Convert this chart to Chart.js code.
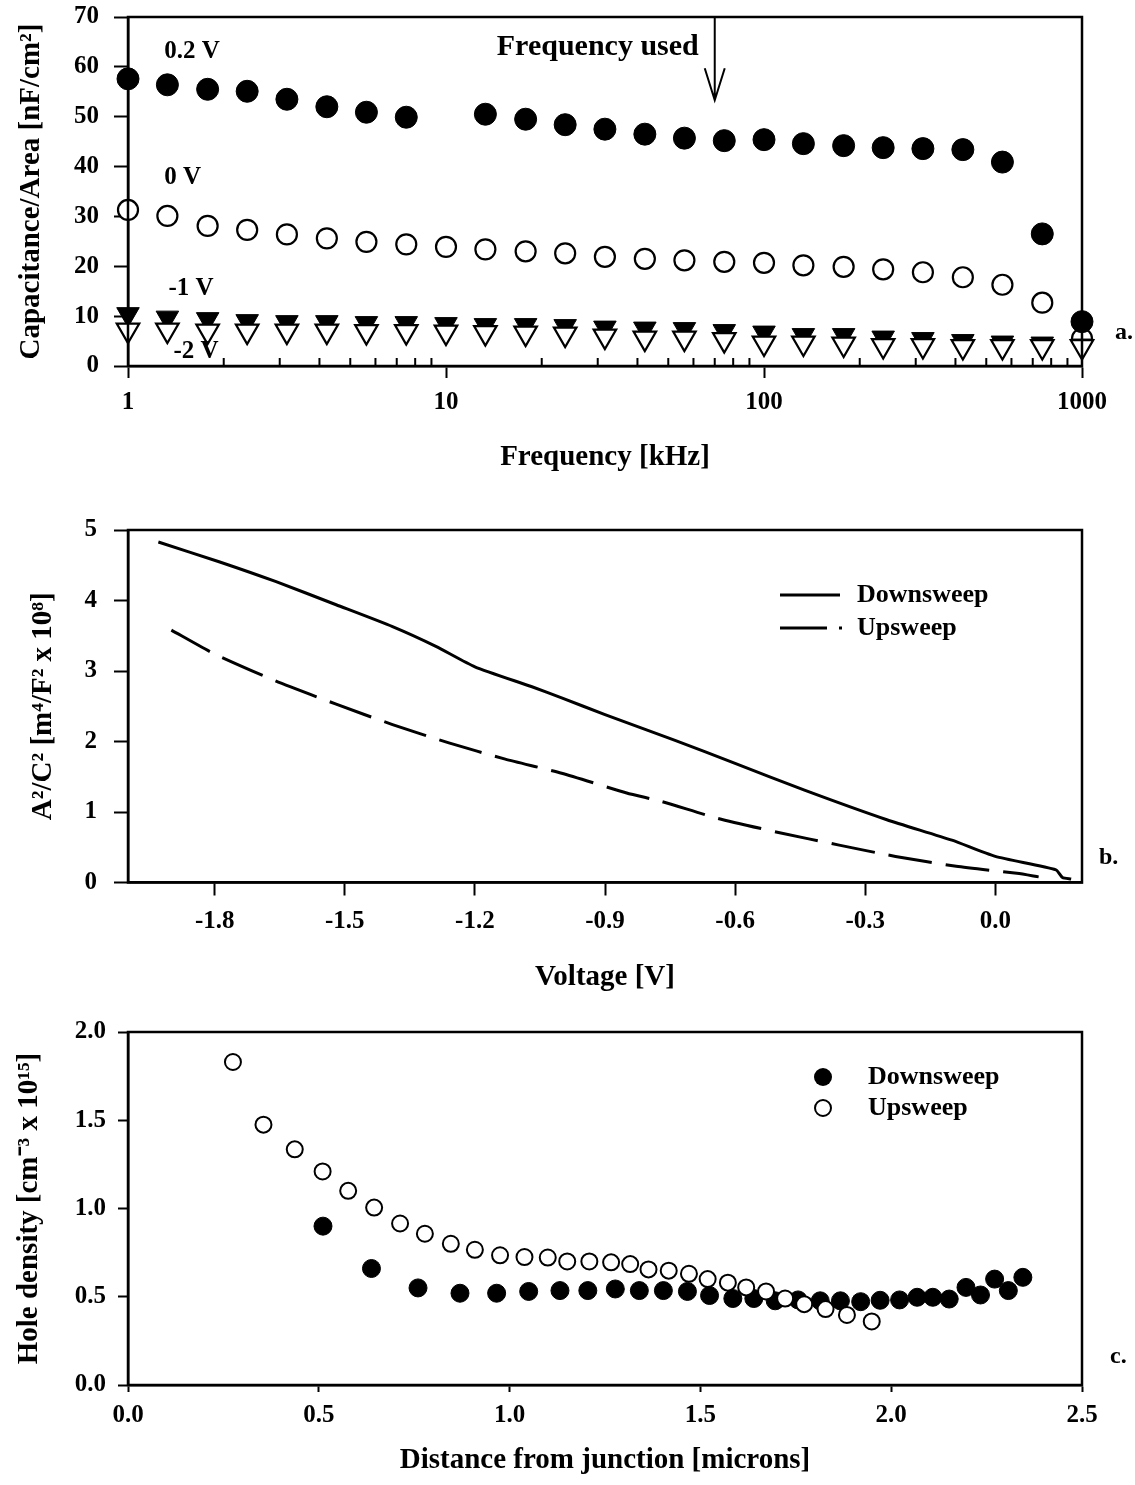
<!DOCTYPE html>
<html>
<head>
<meta charset="utf-8">
<script src="https://cdn.jsdelivr.net/npm/chart.js@4.4.1/dist/chart.umd.min.js"></script>
<style>
  html, body { margin: 0; padding: 0; background: #fff; }
  #page { position: relative; width: 1135px; height: 1485px; }
  canvas { position: absolute; left: 0; }
</style>
</head>
<body>
<div id="page">
  <canvas id="chartA" width="1135" height="480" style="top:0px"></canvas>
  <canvas id="chartB" width="1135" height="520" style="top:480px"></canvas>
  <canvas id="chartC" width="1135" height="485" style="top:1000px"></canvas>
</div>
<script>
// ---- panel a : capacitance vs frequency ----
const freqKHz = [1, 1.33, 1.78, 2.37, 3.16, 4.22, 5.62, 7.5, 10, 13.3, 17.8, 23.7, 31.6, 42.2, 56.2, 75, 100, 133, 178, 237, 316, 422, 562, 750, 1000];
const cap02V = [57.6, 56.4, 55.5, 55.1, 53.5, 52.0, 50.9, 49.9, null, 50.5, 49.5, 48.4, 47.5, 46.5, 45.7, 45.2, 45.4, 44.6, 44.2, 43.8, 43.6, 43.4, 40.9, 26.5, 8.9];
const cap0V = [31.3, 30.1, 28.1, 27.3, 26.4, 25.6, 24.9, 24.4, 23.9, 23.4, 23.0, 22.6, 21.9, 21.5, 21.2, 20.9, 20.7, 20.2, 19.9, 19.4, 18.8, 17.8, 16.3, 12.7, 5.5];
const capM1V = [10.4, 9.7, 9.4, 9.0, 8.8, 8.8, 8.6, 8.6, 8.4, 8.2, 8.2, 8.0, 7.7, 7.5, 7.4, 7.0, 6.7, 6.2, 6.2, 5.7, 5.4, 5.0, 4.7, 4.5, 4.1];
const capM2V = [7.2, 7.2, 7.0, 7.0, 7.0, 7.0, 6.9, 6.9, 6.8, 6.7, 6.6, 6.4, 6.0, 5.6, 5.6, 5.3, 4.6, 4.6, 4.4, 4.1, 4.1, 3.9, 3.9, 3.9, 3.9];
const freqMajorTicks = [1, 10, 100, 1000];
const freqMinorTicks = [2, 3, 4, 5, 6, 7, 8, 9, 20, 30, 40, 50, 60, 70, 80, 90, 200, 300, 400, 500, 600, 700, 800, 900];
const freqUsed = 70;

// ---- panel b : A^2/C^2 vs voltage ----
const voltDown = [-1.93, -1.79, -1.66, -1.52, -1.39, -1.29, -1.20, -1.07, -1.00, -0.90, -0.74, -0.60, -0.44, -0.25, -0.10, 0.00, 0.14, 0.155, 0.175];
const a2c2Down = [4.83, 4.55, 4.27, 3.94, 3.63, 3.35, 3.06, 2.78, 2.62, 2.38, 2.02, 1.69, 1.31, 0.89, 0.60, 0.37, 0.18, 0.07, 0.05];
const voltUp = [-1.90, -1.80, -1.66, -1.52, -1.39, -1.26, -1.13, -1.00, -0.85, -0.77, -0.64, -0.50, -0.36, -0.23, -0.09, 0.05, 0.10];
const a2c2Up = [3.58, 3.24, 2.86, 2.53, 2.24, 1.98, 1.75, 1.55, 1.27, 1.15, 0.91, 0.71, 0.53, 0.37, 0.23, 0.13, 0.08];
const voltTicks = [-1.8, -1.5, -1.2, -0.9, -0.6, -0.3, 0.0];

// ---- panel c : hole density vs distance ----
const distDown = [0.511, 0.638, 0.76, 0.87, 0.966, 1.05, 1.132, 1.205, 1.277, 1.34, 1.403, 1.466, 1.524, 1.585, 1.64, 1.696, 1.756, 1.814, 1.867, 1.92, 1.971, 2.022, 2.068, 2.109, 2.152, 2.196, 2.234, 2.271, 2.307, 2.345];
const densDown = [0.90, 0.66, 0.55, 0.52, 0.52, 0.53, 0.535, 0.535, 0.544, 0.535, 0.535, 0.53, 0.507, 0.49, 0.49, 0.477, 0.482, 0.477, 0.477, 0.472, 0.48, 0.482, 0.497, 0.497, 0.487, 0.553, 0.51, 0.60, 0.535, 0.61];
const distUp = [0.275, 0.355, 0.437, 0.51, 0.577, 0.645, 0.713, 0.778, 0.846, 0.909, 0.975, 1.039, 1.10, 1.151, 1.209, 1.266, 1.316, 1.364, 1.417, 1.47, 1.519, 1.572, 1.62, 1.672, 1.722, 1.772, 1.828, 1.884, 1.949];
const densUp = [1.83, 1.475, 1.335, 1.21, 1.10, 1.005, 0.915, 0.857, 0.80, 0.766, 0.735, 0.725, 0.722, 0.70, 0.70, 0.695, 0.685, 0.655, 0.648, 0.63, 0.60, 0.58, 0.553, 0.53, 0.49, 0.458, 0.43, 0.397, 0.36];

// ====================
// Common settings
// ====================
const SERIF = "'Liberation Serif', 'Times New Roman', serif";
Chart.defaults.font.family = SERIF;
Chart.defaults.color = '#000';
Chart.defaults.animation = false;
Chart.defaults.plugins.legend.display = false;
Chart.defaults.plugins.tooltip.enabled = false;

const tickFont = { family: SERIF, size: 25, weight: 'bold' };
const titleFont = { family: SERIF, size: 29, weight: 'bold' };

function pairs(xs, ys) {
  return xs.map((x, i) => ({ x: x, y: ys[i] }));
}

// axe avec largeur / hauteur fixe (et sans marge ajoutée par les étiquettes)
function fixedWidth(w) {
  return scale => {
    scale.width = w;
    scale.paddingTop = 0;
    scale.paddingBottom = 0;
  };
}
function fixedHeight(h) { return scale => { scale.height = h; }; }

function axisGrid(len) {
  return { drawOnChartArea: false, drawTicks: true, tickLength: len, tickWidth: 2, tickColor: '#000', color: '#000' };
}
const axisBorder = { display: true, color: '#000', width: 2.5 };

// cadre complet autour de la zone de tracé
const framePlugin = {
  id: 'frame',
  afterDraw(chart) {
    const { ctx, chartArea: a } = chart;
    ctx.save();
    ctx.strokeStyle = '#000';
    ctx.lineWidth = 2.5;
    ctx.strokeRect(a.left, a.top, a.right - a.left, a.bottom - a.top);
    ctx.restore();
  }
};

function panelLetter(ctx, text, x, y) {
  ctx.font = 'bold 24px ' + SERIF;
  ctx.textAlign = 'left';
  ctx.textBaseline = 'middle';
  ctx.fillText(text, x, y);
}

// ====================
// Panel a
// ====================
const seriesLabelsA = [
  { text: '0.2 V', f: 1.3, v: 63 },
  { text: '0 V', f: 1.3, v: 37.7 },
  { text: '-1 V', f: 1.34, v: 15.6 },
  { text: '-2 V', f: 1.39, v: 2.8 }
];

const annotateA = {
  id: 'annotateA',
  afterDatasetsDraw(chart) {
    const { ctx, scales: { x, y }, chartArea: a } = chart;
    ctx.save();
    ctx.fillStyle = '#000';
    ctx.strokeStyle = '#000';
    ctx.font = 'bold 25px ' + SERIF;
    ctx.textAlign = 'left';
    ctx.textBaseline = 'middle';
    seriesLabelsA.forEach(l => ctx.fillText(l.text, x.getPixelForValue(l.f), y.getPixelForValue(l.v)));

    // flèche "Frequency used"
    const ax = x.getPixelForValue(freqUsed);
    const tip = y.getPixelForValue(53.3);
    ctx.lineWidth = 2;
    ctx.beginPath();
    ctx.moveTo(ax, a.top);
    ctx.lineTo(ax, tip);
    ctx.moveTo(ax - 10, tip - 32);
    ctx.lineTo(ax, tip);
    ctx.lineTo(ax + 10, tip - 32);
    ctx.stroke();
    ctx.font = 'bold 30px ' + SERIF;
    ctx.textAlign = 'right';
    ctx.fillText('Frequency used', ax - 16, y.getPixelForValue(64));

    // petites graduations internes (log)
    ctx.lineWidth = 2;
    ctx.beginPath();
    freqMinorTicks.forEach(f => {
      const px = x.getPixelForValue(f);
      ctx.moveTo(px, a.bottom);
      ctx.lineTo(px, a.bottom - 8);
    });
    ctx.stroke();

    panelLetter(ctx, 'a.', a.right + 33, a.bottom - 33);
    ctx.restore();
  }
};

new Chart(document.getElementById('chartA'), {
  type: 'scatter',
  data: {
    datasets: [
      { label: '0.2 V', data: pairs(freqKHz, cap02V), order: 2, pointStyle: 'circle', pointRadius: 11,
        backgroundColor: '#000', borderColor: '#000', borderWidth: 1, clip: false },
      { label: '0 V', data: pairs(freqKHz, cap0V), order: 3, pointStyle: 'circle', pointRadius: 10,
        backgroundColor: '#fff', borderColor: '#000', borderWidth: 2.2, clip: false },
      { label: '-1 V', data: pairs(freqKHz, capM1V), order: 1, pointStyle: 'triangle', pointRotation: 180, pointRadius: 13,
        backgroundColor: '#000', borderColor: '#000', borderWidth: 1, clip: false },
      { label: '-2 V', data: pairs(freqKHz, capM2V), order: 0, pointStyle: 'triangle', pointRotation: 180, pointRadius: 13,
        backgroundColor: '#fff', borderColor: '#000', borderWidth: 2.2, clip: false }
    ]
  },
  options: {
    responsive: false,
    layout: { padding: { top: 17, right: 53, left: 0, bottom: 0 } },
    scales: {
      x: {
        type: 'logarithmic', min: 1, max: 1000,
        afterFit: fixedHeight(114),
        afterBuildTicks: scale => {
          scale.ticks = freqMajorTicks.map(v => ({ value: v }));
        },
        ticks: { font: tickFont, padding: 10, autoSkip: false, maxRotation: 0, callback: v => String(v) },
        grid: axisGrid(12),
        border: axisBorder,
        title: { display: true, text: 'Frequency [kHz]', font: titleFont, padding: { top: 0, bottom: 5 } }
      },
      y: {
        min: 0, max: 70,
        afterFit: fixedWidth(128),
        ticks: { font: tickFont, stepSize: 10, padding: 15 },
        grid: axisGrid(14),
        border: axisBorder,
        title: { display: true, text: 'Capacitance/Area [nF/cm²]', font: titleFont, padding: { top: 14, bottom: 0 } }
      }
    }
  },
  plugins: [framePlugin, annotateA]
});

// ====================
// Panel b
// ====================
const upDash = [44, 14];

const annotateB = {
  id: 'annotateB',
  afterDraw(chart) {
    const { ctx, chartArea: a } = chart;
    ctx.save();
    ctx.strokeStyle = '#000';
    ctx.fillStyle = '#000';
    ctx.lineWidth = 3;
    const lx = a.left + 652;
    const y1 = a.top + 65;
    const y2 = a.top + 98;
    ctx.beginPath();
    ctx.moveTo(lx, y1);
    ctx.lineTo(lx + 60, y1);
    ctx.moveTo(lx, y2);
    ctx.lineTo(lx + 47, y2);
    ctx.moveTo(lx + 59, y2);
    ctx.lineTo(lx + 62, y2);
    ctx.stroke();
    ctx.font = 'bold 26px ' + SERIF;
    ctx.textAlign = 'left';
    ctx.textBaseline = 'middle';
    ctx.fillText('Downsweep', lx + 77, y1);
    ctx.fillText('Upsweep', lx + 77, y2);
    panelLetter(ctx, 'b.', a.right + 17, a.bottom - 25);
    ctx.restore();
  }
};

new Chart(document.getElementById('chartB'), {
  type: 'scatter',
  data: {
    datasets: [
      { label: 'Downsweep', data: pairs(voltDown, a2c2Down), showLine: true, pointRadius: 0,
        borderColor: '#000', borderWidth: 3, tension: 0.2, clip: false },
      { label: 'Upsweep', data: pairs(voltUp, a2c2Up), showLine: true, pointRadius: 0,
        borderColor: '#000', borderWidth: 3, borderDash: upDash, tension: 0.2, clip: false }
    ]
  },
  options: {
    responsive: false,
    layout: { padding: { top: 50, right: 53, left: 0, bottom: 0 } },
    scales: {
      x: {
        min: -2.0, max: 0.2,
        afterFit: fixedHeight(117.5),
        afterBuildTicks: scale => {
          scale.ticks = voltTicks.map(v => ({ value: v }));
        },
        ticks: { font: tickFont, padding: 11, autoSkip: false, maxRotation: 0, callback: v => v.toFixed(1) },
        grid: axisGrid(13),
        border: axisBorder,
        title: { display: true, text: 'Voltage [V]', font: titleFont, padding: { top: 0, bottom: 5 } }
      },
      y: {
        min: 0, max: 5,
        afterFit: fixedWidth(128),
        ticks: { font: tickFont, stepSize: 1, padding: 17 },
        grid: axisGrid(14),
        border: axisBorder,
        title: { display: true, text: 'A²/C² [m⁴/F² x 10⁸]', font: titleFont, padding: { top: 26, bottom: 0 } }
      }
    }
  },
  plugins: [framePlugin, annotateB]
});

// ====================
// Panel c
// ====================
const annotateC = {
  id: 'annotateC',
  afterDraw(chart) {
    const { ctx, chartArea: a } = chart;
    ctx.save();
    const cx = a.left + 695;
    const y1 = a.top + 45;
    const y2 = a.top + 76;
    ctx.fillStyle = '#000';
    ctx.beginPath();
    ctx.arc(cx, y1, 9, 0, Math.PI * 2);
    ctx.fill();
    ctx.strokeStyle = '#000';
    ctx.lineWidth = 2;
    ctx.beginPath();
    ctx.arc(cx, y2, 8, 0, Math.PI * 2);
    ctx.stroke();
    ctx.font = 'bold 26px ' + SERIF;
    ctx.textAlign = 'left';
    ctx.textBaseline = 'middle';
    ctx.fillText('Downsweep', cx + 45, y1);
    ctx.fillText('Upsweep', cx + 45, y2);
    panelLetter(ctx, 'c.', a.right + 28, a.bottom - 28);
    ctx.restore();
  }
};

new Chart(document.getElementById('chartC'), {
  type: 'scatter',
  data: {
    datasets: [
      { label: 'Upsweep', data: pairs(distUp, densUp), pointRadius: 8,
        backgroundColor: '#fff', borderColor: '#000', borderWidth: 2, clip: false },
      { label: 'Downsweep', data: pairs(distDown, densDown), pointRadius: 9,
        backgroundColor: '#000', borderColor: '#000', borderWidth: 1, clip: false }
    ]
  },
  options: {
    responsive: false,
    layout: { padding: { top: 32, right: 53, left: 0, bottom: 0 } },
    scales: {
      x: {
        min: 0, max: 2.5,
        afterFit: fixedHeight(100),
        ticks: { font: tickFont, stepSize: 0.5, padding: 9, autoSkip: false, maxRotation: 0, callback: v => v.toFixed(1) },
        grid: axisGrid(7),
        border: axisBorder,
        title: { display: true, text: 'Distance from junction [microns]', font: titleFont, padding: { top: 0, bottom: 7 } }
      },
      y: {
        min: 0, max: 2,
        afterFit: fixedWidth(128),
        ticks: { font: tickFont, stepSize: 0.5, padding: 12, callback: v => v.toFixed(1) },
        grid: axisGrid(10),
        border: axisBorder,
        title: { display: true, text: 'Hole density [cm⁻³ x 10¹⁵]', font: titleFont, padding: { top: 12, bottom: 0 } }
      }
    }
  },
  plugins: [framePlugin, annotateC]
});
</script>
</body>
</html>
